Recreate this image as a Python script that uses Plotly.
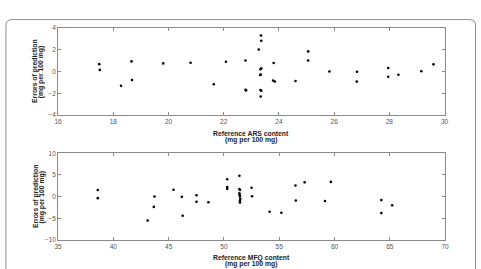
import plotly.graph_objects as go

# Top panel: ARS
ars_ref = [17.49, 17.51, 18.28, 18.66, 18.68, 19.81, 20.80, 21.64, 22.08, 22.79, 22.79, 22.81,
           23.35, 23.36, 23.27, 23.33, 23.36, 23.32, 23.34, 23.33, 23.36, 23.34,
           23.81, 23.79, 23.85, 24.60, 25.06, 25.06, 25.83, 26.83, 26.82, 27.96, 27.96,
           28.33, 29.16, 29.60]
ars_err = [0.67, 0.14, -1.32, 0.92, -0.78, 0.74, 0.80, -1.17, 0.89, 1.00, -1.68, -1.74,
           3.30, 2.82, 2.02, 0.20, 0.28, -0.33, -0.28, -1.70, -1.77, -2.30,
           0.77, -0.84, -0.93, -0.87, 1.84, 1.00, 0.00, -0.03, -0.93, 0.32, -0.48,
           -0.30, 0.02, 0.65]

# Bottom panel: MFQ
mfq_ref = [38.59, 38.59, 43.10, 43.66, 43.72, 45.44, 46.20, 46.27, 47.52, 47.52, 48.60,
           50.30, 50.30, 50.30, 51.40, 51.40, 51.45, 51.40, 51.42, 51.45, 51.48, 51.45, 51.45,
           52.50, 52.55, 54.13, 55.20, 56.47, 56.50, 57.30, 59.14, 59.67, 64.24, 64.24, 65.22]
mfq_err = [1.53, -0.34, -5.50, -2.36, 0.02, 1.60, -0.05, -4.40, 0.34, -1.17, -1.30,
           4.00, 2.20, 1.80, 4.83, 1.75, 1.55, 0.79, 0.40, 0.02, -0.49, -0.88, -1.33,
           2.04, 0.11, -3.50, -3.70, 2.58, -0.90, 3.30, -1.00, 3.40, -0.80, -3.80, -2.00]

ars_ticks = [16, 18, 20, 22, 24, 26, 28, 30]
ars_yticks = [-4, -2, 0, 2, 4]
mfq_ticks = [35, 40, 45, 50, 55, 60, 65, 70]
mfq_yticks = [-10, -5, 0, 5, 10]

W, H = 481, 269
def px(x): return x / W
def py(y): return 1 - y / H

fig = go.Figure()
mk = dict(color="black", size=2.6, symbol="circle", line=dict(width=0))
fig.add_trace(go.Scatter(x=ars_ref, y=ars_err, mode="markers", marker=mk, xaxis="x", yaxis="y"))
fig.add_trace(go.Scatter(x=mfq_ref, y=mfq_err, mode="markers", marker=mk, xaxis="x2", yaxis="y2"))

axcommon = dict(showline=True, linecolor="#8a8a8a", linewidth=1, mirror="ticks", ticks="inside",
                ticklen=3, tickcolor="#8a8a8a", showgrid=False, zeroline=False,
                tickfont=dict(size=6.5, color="#555555", family="Liberation Sans"))

fig.update_layout(
    width=W, height=H, margin=dict(l=0, r=0, t=0, b=0),
    paper_bgcolor="white", plot_bgcolor="white", showlegend=False,
    xaxis=dict(domain=[px(55), px(448)], range=[16, 30], tickvals=ars_ticks, anchor="y", **axcommon),
    yaxis=dict(domain=[py(114), py(24.5)], range=[-4, 4], tickvals=ars_yticks, anchor="x", **axcommon),
    xaxis2=dict(domain=[px(55), px(448.5)], range=[35, 70], tickvals=mfq_ticks, anchor="y2", **axcommon),
    yaxis2=dict(domain=[py(242.3), py(153.3)], range=[-10, 10], tickvals=mfq_yticks, anchor="x2", **axcommon),
)

tf = dict(size=6.8, color="#222222", family="Liberation Sans")
def ann(text, x, y, angle=0):
    fig.add_annotation(text="<b>" + text + "</b>", x=px(x), y=py(y), xref="paper", yref="paper",
                       showarrow=False, textangle=angle, font=tf,
                       xanchor="center", yanchor="middle", align="center")

ann("Errors of prediction", 32, 69.25, -90)
ann("(mg per 100 mg)", 38.5, 69.25, -90)
ann("Reference ARS content", 251.5, 132.7)
ann("(mg per 100 mg)", 251.5, 139.5)
ann("Errors of prediction", 32, 197.8, -90)
ann("(mg per 100 mg)", 38.5, 197.8, -90)
ann("Reference MFQ content", 251.5, 260.3)
ann("(mg per 100 mg)", 251.5, 266.8)

# outer rounded frame
x0, x1, yt, yb = px(2), px(479.5), py(16), -0.1
dx, dy = 6 / W, 6 / H
path = (f"M {x0},{yb} L {x0},{yt-dy} Q {x0},{yt} {x0+dx},{yt} L {x1-dx},{yt} "
        f"Q {x1},{yt} {x1},{yt-dy} L {x1},{yb}")
fig.add_shape(type="path", path=path, xref="paper", yref="paper",
              line=dict(color="#8a8a8a", width=1))

fig.write_html("out.html")
